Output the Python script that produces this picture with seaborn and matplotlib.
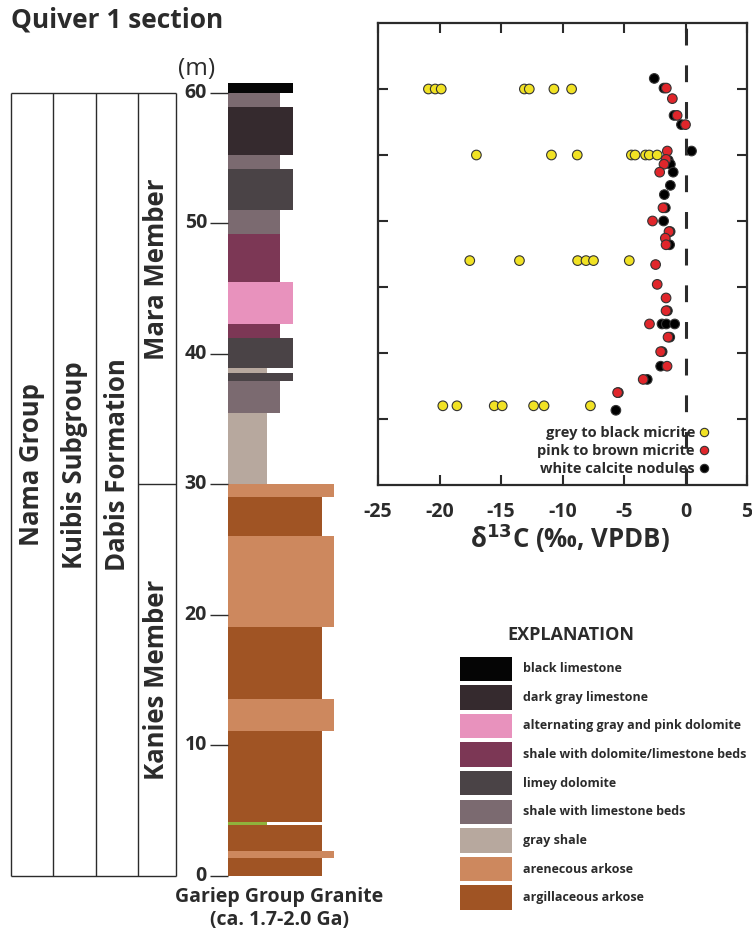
import numpy as np
import pandas as pd
import seaborn as sns
import matplotlib.pyplot as plt
from matplotlib.lines import Line2D

# ---- stratigraphic column (metres) ----
bed_base = [0.0, 1.4, 1.95, 3.9, 4.15, 11.1, 13.55, 19.05, 26.05, 29.05,
            30.0, 35.5, 37.95, 38.55, 38.95, 41.25, 42.3, 45.5, 49.2, 51.0,
            54.2, 55.25, 58.95, 60.0]
bed_top = [1.4, 1.95, 3.9, 4.15, 11.1, 13.55, 19.05, 26.05, 29.05, 30.0,
           35.5, 37.95, 38.55, 38.95, 41.25, 42.3, 45.5, 49.2, 51.0, 54.2,
           55.25, 58.95, 60.0, 60.8]
bed_lith = ["argillaceous arkose", "arenecous arkose", "argillaceous arkose", "marker bed",
            "argillaceous arkose", "arenecous arkose", "argillaceous arkose", "arenecous arkose",
            "argillaceous arkose", "arenecous arkose", "gray shale", "shale with limestone beds",
            "limey dolomite", "gray shale", "limey dolomite", "shale with dolomite/limestone beds",
            "alternating gray and pink dolomite", "shale with dolomite/limestone beds",
            "shale with limestone beds", "limey dolomite", "shale with limestone beds",
            "dark gray limestone", "shale with limestone beds", "black limestone"]

lith_names = ["black limestone", "dark gray limestone", "alternating gray and pink dolomite",
              "shale with dolomite/limestone beds", "limey dolomite", "shale with limestone beds",
              "gray shale", "arenecous arkose", "argillaceous arkose"]
lith_colors = ["#050505", "#352a2e", "#e892bd", "#7c3755", "#4a4346", "#7b6a70",
               "#b7a89e", "#cd885e", "#a05424"]
lith_width = [65, 65, 65, 52, 65, 52, 39, 106, 94]

depth_ticks = [0, 10, 20, 30, 40, 50, 60]

# ---- d13C data (permil VPDB) ----
grey_depth = [60, 60, 60, 60, 60, 60, 60,
              55, 55, 55, 55, 55, 55, 55, 55,
              47, 47, 47, 47, 47, 47,
              36, 36, 36, 36, 36, 36, 36]
grey_d13c = [-20.9, -20.35, -19.86, -13.1, -12.7, -10.7, -9.26,
             -17.0, -10.9, -8.8, -4.4, -4.1, -3.25, -2.95, -2.3,
             -17.54, -13.5, -8.77, -8.09, -7.48, -4.57,
             -19.73, -18.58, -15.55, -14.9, -12.35, -11.5, -7.73]

pink_depth = [60.07, 59.27, 58.0, 57.3, 55.3, 54.67, 54.3, 53.7, 51.0, 50.0, 49.2, 48.7,
              48.2, 46.7, 45.2, 44.17, 43.2, 42.2, 41.2, 40.1, 39.0, 38.0, 37.0]
pink_d13c = [-1.56, -1.07, -0.68, 0.0, -1.48, -1.58, -1.75, -2.1, -1.83, -2.68, -1.34, -1.64,
             -1.58, -2.43, -2.3, -1.58, -1.58, -2.93, -1.42, -2.02, -1.5, -3.44, -5.52]

white_depth = [60.8, 60.07, 58.0, 57.3, 55.3, 54.6, 54.3, 53.7, 52.7, 52.0, 51.0, 50.0,
               49.2, 48.2, 43.2, 42.2, 42.2, 42.2, 41.2, 40.1, 39.0, 38.0, 37.0, 35.66]
white_d13c = [-2.54, -1.75, -0.93, -0.33, 0.49, -1.4, -1.23, -1.0, -1.23, -1.72, -1.64, -1.78,
              -1.25, -1.29, -1.47, -1.91, -1.56, -0.88, -1.28, -1.9, -2.02, -3.11, -5.46, -5.66]

sample_types = ["grey to black micrite", "pink to brown micrite", "white calcite nodules"]
sample_colors = ["#f1e224", "#e0262b", "#000000"]

sns.set_style("white")
plt.rcParams['font.family'] = ['Open Sans', 'DejaVu Sans']
plt.rcParams['axes.unicode_minus'] = False
ink = "#2b2b2b"

W, H = 752, 933
fig = plt.figure(figsize=(W / 100, H / 100), dpi=100)


def px_axes(x0, y0, x1, y1):
    return fig.add_axes([x0 / W, 1 - y1 / H, (x1 - x0) / W, (y1 - y0) / H])


# ---------------- column ----------------
ax1 = px_axes(0, 40, 370, 933)
ax1.set_xlim(0, 370)
ax1.set_ylim(-4.37, 64.06)
ax1.axis("off")

lith_color = dict(zip(lith_names, lith_colors))
lith_color["marker bed"] = "#8fb33c"
lith_w = dict(zip(lith_names, lith_width))
lith_w["marker bed"] = 39

beds = pd.DataFrame({"base": bed_base, "top": bed_top, "lith": bed_lith})
beds["thick"] = beds["top"] - beds["base"]
ax1.barh(beds["base"], [lith_w[l] for l in beds["lith"]], height=beds["thick"], left=228,
         align="edge", color=[lith_color[l] for l in beds["lith"]], linewidth=0)

ax1.hlines(depth_ticks, 210, 228, color=ink, lw=1)
for d in depth_ticks:
    ax1.text(207, d, str(d), ha="right", va="center", fontsize=14, fontweight="bold", color=ink)
ax1.text(197, 61.84, "(m)", ha="center", va="center", fontsize=17.5, color=ink)

# unit boxes
box_x = [10.7, 53.3, 96, 138.3, 175.7]
ax1.vlines(box_x, 0, 60, color=ink, lw=1)
ax1.hlines([0, 60], box_x[0], box_x[-1], color=ink, lw=1)
ax1.hlines(30, box_x[3], box_x[4], color=ink, lw=1)
units = [("Nama Group", 0, 31.5), ("Kuibis Subgroup", 1, 31.5), ("Dabis Formation", 2, 31.5),
         ("Mara Member", 3, 46.5), ("Kanies Member", 3, 15)]
for name, col, yc in units:
    ax1.text((box_x[col] + box_x[col + 1]) / 2, yc, name, rotation=90, ha="center", va="center",
             fontsize=18.5, fontweight="bold", color=ink)

ax1.text(279, -1.61, "Gariep Group Granite", ha="center", va="center", fontsize=14,
         fontweight="bold", color=ink)
ax1.text(279, -3.37, "(ca. 1.7-2.0 Ga)", ha="center", va="center", fontsize=14,
         fontweight="bold", color=ink)

fig.text(11 / W, 1 - 20 / H, "Quiver 1 section", ha="left", va="center", fontsize=19,
         fontweight="bold", color=ink)

# ---------------- isotope plot ----------------
ax2 = px_axes(378, 23, 747, 485)
df = pd.concat([
    pd.DataFrame({"depth": grey_depth, "d13C": grey_d13c, "type": sample_types[0]}),
    pd.DataFrame({"depth": white_depth, "d13C": white_d13c, "type": sample_types[2]}),
    pd.DataFrame({"depth": pink_depth, "d13C": pink_d13c, "type": sample_types[1]}),
])
sns.scatterplot(data=df, x="d13C", y="depth", hue="type", hue_order=sample_types,
                palette=sample_colors, s=48, edgecolor="#333333", linewidth=0.8,
                ax=ax2, legend=False, zorder=3)
ax2.axvline(0, color=ink, lw=2.2, dashes=(5.5, 6.5), zorder=2)
ax2.set_xlim(-25, 5)
ax2.set_ylim(30, 65)
ax2.set_xticks([-25, -20, -15, -10, -5, 0, 5])
ax2.set_yticks([35, 40, 45, 50, 55, 60])
ax2.set_yticklabels([])
ax2.tick_params(direction="in", length=7, width=1.5, top=True, right=True, left=True,
                bottom=True, pad=12, labelsize=14, colors=ink)
for t in ax2.get_xticklabels():
    t.set_fontweight("bold")
for s in ax2.spines.values():
    s.set_linewidth(1.6)
    s.set_color(ink)
ax2.set_xlabel("")
ax2.set_ylabel("")

handles = [Line2D([], [], ls="", marker="o", markersize=6, markerfacecolor=c,
                  markeredgecolor="#333333", markeredgewidth=0.8) for c in sample_colors]
leg = ax2.legend(handles, sample_types, markerfirst=False, frameon=False, loc="lower right",
                 bbox_to_anchor=(0.93, -0.01), handlelength=0.6, handletextpad=0.3,
                 labelspacing=0.3, prop={"weight": "bold", "size": 10.5})
for t in leg.get_texts():
    t.set_color(ink)

fig.text(570 / W, 1 - 538 / H, "δ$^{\\mathbf{13}}$C (‰, VPDB)", ha="center", va="center",
         fontsize=18.5, fontweight="bold", color=ink)

# ---------------- explanation ----------------
ax3 = px_axes(440, 620, 752, 915)
ax3.set_xlim(440, 752)
ax3.set_ylim(8.608, -1.706)
ax3.axis("off")
rows = np.arange(len(lith_names))
ax3.barh(rows, 52, left=460, height=0.853, color=lith_colors, linewidth=0)
for i, name in zip(rows, lith_names):
    ax3.text(523, i, name, ha="left", va="center", fontsize=9, fontweight="bold", color=ink)
ax3.text(507, -1.18, "EXPLANATION", ha="left", va="center", fontsize=13, fontweight="bold",
         color=ink)

fig.savefig("out.png", dpi=100, facecolor="white")
